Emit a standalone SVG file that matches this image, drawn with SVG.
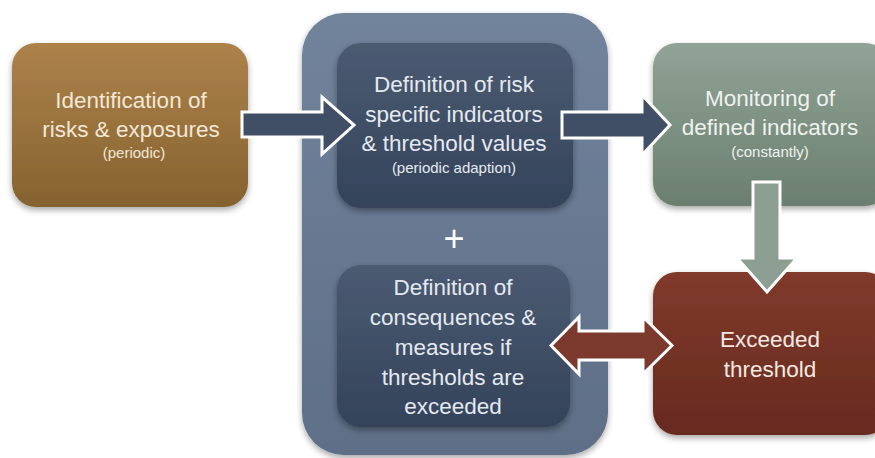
<svg xmlns="http://www.w3.org/2000/svg" width="875" height="458" viewBox="0 0 875 458">
<defs>
<linearGradient id="gBrown" x1="0" y1="0" x2="0" y2="1"><stop offset="0" stop-color="#ad824b"/><stop offset="1" stop-color="#85622f"/></linearGradient>
<linearGradient id="gCont" x1="0" y1="0" x2="0" y2="1"><stop offset="0" stop-color="#72839c"/><stop offset="1" stop-color="#5e6e87"/></linearGradient>
<linearGradient id="gInner" x1="0" y1="0" x2="0" y2="1"><stop offset="0" stop-color="#4b5b72"/><stop offset="1" stop-color="#34435a"/></linearGradient>
<linearGradient id="gGreen" x1="0" y1="0" x2="0" y2="1"><stop offset="0" stop-color="#90a396"/><stop offset="1" stop-color="#6b7f70"/></linearGradient>
<linearGradient id="gRed" x1="0" y1="0" x2="0" y2="1"><stop offset="0" stop-color="#803a2b"/><stop offset="1" stop-color="#672a1f"/></linearGradient>
<filter id="sh" x="-10%" y="-10%" width="120%" height="125%"><feDropShadow dx="0" dy="3" stdDeviation="3" flood-color="#000" flood-opacity="0.35"/></filter>
</defs>
<style>
text{font-family:"Liberation Sans",Arial,sans-serif;text-anchor:middle}
.m{font-size:22.5px}
.s{font-size:15px}
.tb{fill:#f3e7d6}
.tc{fill:#e4e9f0}
.tg{fill:#eef2ee}
.tr{fill:#f6e8e2}
.arr{stroke:#ffffff;stroke-width:3;stroke-linejoin:miter}
</style>
<rect width="875" height="458" fill="#ffffff"/>
<g id="container">
<rect x="302" y="13" width="306" height="442" rx="42" fill="url(#gCont)" filter="url(#sh)"/>
<text x="454" y="251" style="font-size:36px" fill="#ffffff">+</text>
</g>
<g id="identification">
<rect x="12" y="43" width="236" height="164" rx="24" fill="url(#gBrown)" filter="url(#sh)"/>
<text class="m tb" x="131" y="108">Identification of</text>
<text class="m tb" x="131" y="137">risks &amp; exposures</text>
<text class="s tb" x="134" y="158">(periodic)</text>
</g>
<g id="definition-indicators">
<rect x="337" y="43" width="236" height="165" rx="24" fill="url(#gInner)" filter="url(#sh)"/>
<text class="m tc" x="454" y="92">Definition of risk</text>
<text class="m tc" x="454" y="122">specific indicators</text>
<text class="m tc" x="454" y="151">&amp; threshold values</text>
<text class="s tc" x="454" y="173">(periodic adaption)</text>
</g>
<g id="definition-consequences">
<rect x="337" y="265" width="233" height="162" rx="24" fill="url(#gInner)" filter="url(#sh)"/>
<text class="m tc" x="453" y="295">Definition of</text>
<text class="m tc" x="453" y="325">consequences &amp;</text>
<text class="m tc" x="453" y="355">measures if</text>
<text class="m tc" x="453" y="385">thresholds are</text>
<text class="m tc" x="453" y="414">exceeded</text>
</g>
<g id="monitoring">
<rect x="653" y="43" width="236" height="163" rx="24" fill="url(#gGreen)" filter="url(#sh)"/>
<text class="m tg" x="770" y="106">Monitoring of</text>
<text class="m tg" x="770" y="135">defined indicators</text>
<text class="s tg" x="770" y="157">(constantly)</text>
</g>
<g id="exceeded">
<rect x="653" y="272" width="236" height="163" rx="24" fill="url(#gRed)" filter="url(#sh)"/>
<text class="m tr" x="770" y="347">Exceeded</text>
<text class="m tr" x="770" y="377">threshold</text>
</g>
<g id="connectors">
<path class="arr" fill="#404f66" d="M242,112 H322 V97 L354,125 L322,154 V137 H242 Z"/>
<path class="arr" fill="#404f66" d="M562,112 H642 V95 L670,125 L642,155 V138 H562 Z"/>
<path class="arr" fill="#8c9f92" d="M753,182 H780 V258 H797 L767,292 L737,258 H753 Z"/>
<path class="arr" fill="#7b3a2d" d="M551,345.5 L579,317 V331 H643 V317 L672,345.5 L643,374 V360 H579 V374 Z"/>
</g>
</svg>
